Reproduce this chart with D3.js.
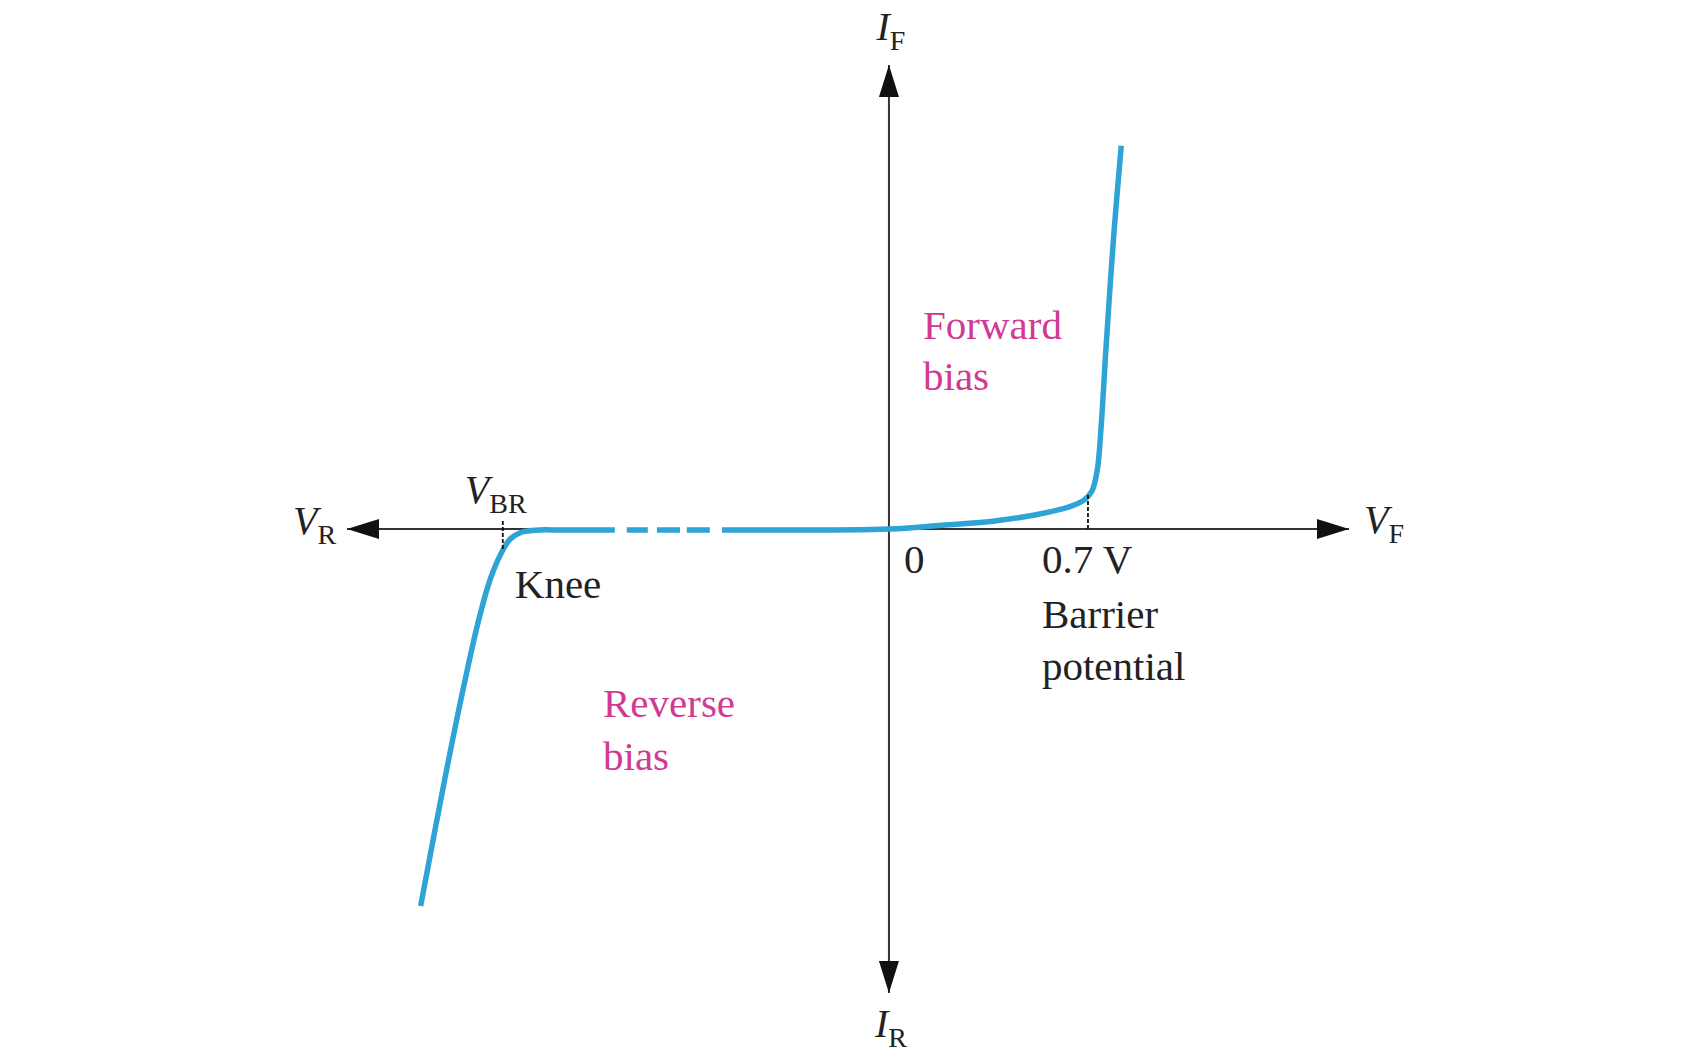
<!DOCTYPE html>
<html>
<head>
<meta charset="utf-8">
<script src="https://cdn.jsdelivr.net/npm/d3@7"></script>
<style>
  body { margin: 0; background: #fff; }
  svg { display: block; }
  text { font-family: "Liberation Serif", "Times New Roman", serif; }
</style>
</head>
<body>
<svg width="1692" height="1057"></svg>
<script>
// diode I-V curve, schematic units (x in volts, y in arbitrary current units)
let reverseV = [-1.647, -1.562, -1.490, -1.442, -1.402, -1.365, -1.332, -1.290, -1.230, -1.15, -0.665];
let reverseI = [-3.77, -2.5, -1.5, -0.9, -0.5, -0.25, -0.1, -0.03, -0.01, -0.01, -0.01];
let forwardV = [0, 0.175, 0.365, 0.517, 0.631, 0.688, 0.714, 0.733, 0.745, 0.764, 0.790, 0.817];
let forwardI = [0, 0.035, 0.078, 0.143, 0.218, 0.294, 0.38, 0.596, 0.974, 1.837, 2.916, 3.833];

// broken-axis gaps on the reverse side (volts)
let breakGaps = [[-0.964, -0.922], [-0.848, -0.816], [-0.735, -0.711], [-0.630, -0.587]];

let barrierV = 0.7, breakdownV = -1.358;
let tickLabels = ["0", "0.7 V"];

let svg = d3.select("svg");

let x = d3.scaleLinear().domain([-1.906, 1.618]).range([347, 1349]),
    y = d3.scaleLinear().domain([-4.64, 4.64]).range([993, 65]);

let pts = reverseV.map(function (v, i) { return [v, reverseI[i]]; })
    .concat(forwardV.map(function (v, i) { return [v, forwardI[i]]; }));

let g = svg.append("g");

// arrow heads
let defs = svg.append("defs");
defs.append("marker")
    .attr("id", "arr")
    .attr("viewBox", "0 0 32 20")
    .attr("refX", 32).attr("refY", 10)
    .attr("markerWidth", 32).attr("markerHeight", 20)
    .attr("markerUnits", "userSpaceOnUse")
    .attr("orient", "auto-start-reverse")
    .append("path")
    .attr("d", "M0,0 L32,10 L0,20 Z")
    .attr("fill", "#111");

// axes
g.append("line")
    .attr("x1", x.range()[0]).attr("x2", x.range()[1])
    .attr("y1", y(0)).attr("y2", y(0))
    .attr("stroke", "#333").attr("stroke-width", 2)
    .attr("marker-start", "url(#arr)")
    .attr("marker-end", "url(#arr)");

g.append("line")
    .attr("x1", x(0)).attr("x2", x(0))
    .attr("y1", y.range()[0]).attr("y2", y.range()[1])
    .attr("stroke", "#333").attr("stroke-width", 2)
    .attr("marker-start", "url(#arr)")
    .attr("marker-end", "url(#arr)");

// curve
let line = d3.line()
    .x(function (d) { return x(d[0]); })
    .y(function (d) { return y(d[1]); })
    .curve(d3.curveCatmullRom.alpha(0.5));

g.append("path")
    .datum(pts)
    .attr("d", line)
    .attr("fill", "none")
    .attr("stroke", "#2ea3d6")
    .attr("stroke-width", 5.5)
    .attr("stroke-linejoin", "round")
    .attr("stroke-linecap", "butt");

// white cuts for the broken axis
g.selectAll(".gap")
    .data(breakGaps)
    .enter().append("rect")
    .attr("class", "gap")
    .attr("x", function (d) { return x(d[0]); })
    .attr("width", function (d) { return x(d[1]) - x(d[0]); })
    .attr("y", y(0) - 7)
    .attr("height", 15)
    .attr("fill", "#fff");

// dashed markers at barrier potential and breakdown
g.append("line")
    .attr("x1", x(barrierV)).attr("x2", x(barrierV))
    .attr("y1", y(0)).attr("y2", y(0.36))
    .attr("stroke", "#111").attr("stroke-width", 1.8)
    .attr("stroke-dasharray", "4,2");

g.append("line")
    .attr("x1", x(breakdownV)).attr("x2", x(breakdownV))
    .attr("y1", y(0.08)).attr("y2", y(-0.2))
    .attr("stroke", "#111").attr("stroke-width", 1.8)
    .attr("stroke-dasharray", "4,2");

// axis variable labels
let varLabel = function (px, py, main, sub, anchor) {
    let t = svg.append("text")
        .attr("x", px).attr("y", py)
        .attr("fill", "#222")
        .attr("text-anchor", anchor || "start");
    t.append("tspan").attr("font-style", "italic").attr("font-size", 40).text(main);
    t.append("tspan").attr("font-size", 28).attr("dy", 10).text(sub);
};

varLabel(x(0) + 2, 40, "I", "F", "middle");
varLabel(x(0) + 2, 1037, "I", "R", "middle");
varLabel(x.range()[1] + 15, 533, "V", "F");
varLabel(293, 534, "V", "R");
varLabel(x(breakdownV) - 38, 503, "V", "BR");

let txt = function (px, py, s, col) {
    svg.append("text")
        .attr("x", px).attr("y", py)
        .attr("font-size", 41)
        .attr("fill", col || "#222")
        .text(s);
};

txt(x(0) + 15, 573, tickLabels[0]);
txt(x(barrierV) - 46, 573, tickLabels[1]);
txt(x(barrierV) - 46, 628, "Barrier");
txt(x(barrierV) - 46, 680, "potential");
txt(x(breakdownV) + 12, 598, "Knee");

let pink = "#d13a94";
txt(923, 339, "Forward", pink);
txt(923, 390, "bias", pink);
txt(603, 717, "Reverse", pink);
txt(603, 770, "bias", pink);
</script>
</body>
</html>
